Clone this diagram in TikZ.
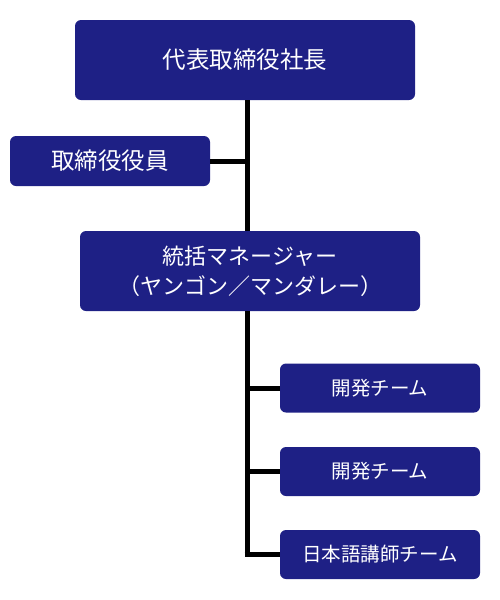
\documentclass[tikz,border=0pt]{standalone}
\usepackage{fontspec}
\setmainfont{Noto Sans CJK JP}
\definecolor{navy}{RGB}{30,32,133}
\begin{document}
\begin{tikzpicture}[x=1pt,y=-1pt,
  orgbox/.style={fill=navy,rounded corners=6pt,text=white,inner sep=0pt,align=center},
  conn/.style={line width=5pt,black}]
\useasboundingbox (0,0) rectangle (500,600);
\node[orgbox,minimum width=340pt,minimum height=80pt,font=\fontsize{23.5}{28}\selectfont] (ceo) at (245,60) {代表取締役社長};
\node[orgbox,minimum width=200pt,minimum height=50pt,font=\fontsize{23.5}{28}\selectfont] (dir) at (110,161) {取締役役員};
\node[orgbox,minimum width=340pt,minimum height=80pt,font=\fontsize{22}{30}\selectfont] (mgr) at (250,271) {統括マネージャー\\（ヤンゴン／マンダレー）};
\node[orgbox,minimum width=200pt,minimum height=49pt,font=\fontsize{19.5}{24}\selectfont] (t1) at (380,388) {開発チーム};
\node[orgbox,minimum width=200pt,minimum height=49pt,font=\fontsize{19.5}{24}\selectfont] (t2) at (380,471.5) {開発チーム};
\node[orgbox,minimum width=200pt,minimum height=49pt,font=\fontsize{19.5}{24}\selectfont] (t3) at (380,554.5) {日本語講師チーム};
\coordinate (top1) at (247,100);
\coordinate (bot1) at (247,231);
\coordinate (top2) at (247,311);
\coordinate (j2) at (247,554.5);
\draw[conn] (top1) -- (bot1);
\draw[conn] (dir.east) -- (dir.east -| top1);
\draw[conn] (top2) -- (j2);
\draw[conn] (t1.west -| top2) -- (t1.west);
\draw[conn] (t2.west -| top2) -- (t2.west);
\draw[conn] ([xshift=-2.5pt]j2) -- (t3.west);
\end{tikzpicture}
\end{document}
